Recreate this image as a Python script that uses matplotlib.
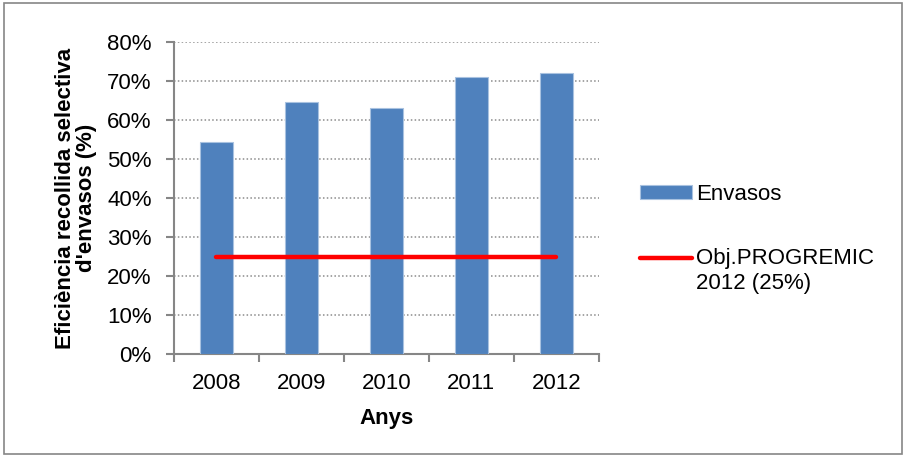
import numpy as np
import matplotlib.pyplot as plt
from matplotlib.legend_handler import HandlerLine2D
from matplotlib.lines import Line2D
from matplotlib.ticker import FixedLocator, FuncFormatter

plt.rcParams['font.family'] = ['Liberation Sans', 'DejaVu Sans']

# recollida selectiva d'envasos per any
anys = ['2008', '2009', '2010', '2011', '2012']
eficiencia = [54.3, 64.5, 63.1, 71.0, 72.0]
objectiu = [25, 25, 25, 25, 25]


class LiniaAdalt(HandlerLine2D):
    # put the legend line beside the first line of a two-line label
    def create_artists(self, legend, orig_handle, xdescent, ydescent,
                       width, height, fontsize, trans):
        artists = super().create_artists(legend, orig_handle, xdescent, ydescent,
                                         width, height, fontsize, trans)
        for a in artists:
            if isinstance(a, Line2D):
                a.set_ydata(np.asarray(a.get_ydata()) + 0.6 * fontsize)
        return artists


fig = plt.figure(figsize=(9.06, 4.57), dpi=100)
ax = fig.add_axes([0.192, 0.2254, 0.469, 0.6826])

pos = list(range(len(anys)))
barres = ax.bar(pos, eficiencia, width=0.39, color='#4F81BD', edgecolor='#A9C2E0',
                linewidth=0.8, label='Envasos', zorder=3)
linia, = ax.plot(pos, objectiu, color='#FF0000', linewidth=3.2, solid_capstyle='round',
                 label='Obj.PROGREMIC\n2012 (25%)', zorder=4)

ax.set_xlim(-0.5, 4.5)
ax.set_ylim(0, 80)
ax.set_yticks(range(0, 81, 10))
ax.yaxis.set_major_formatter(FuncFormatter(lambda v, p: f'{v:.0f}%'))
ax.set_xticks(pos)
ax.set_xticklabels(anys)
ax.xaxis.set_minor_locator(FixedLocator([-0.5, 0.5, 1.5, 2.5, 3.5, 4.5]))

ax.tick_params(axis='x', which='major', length=0, pad=14, labelsize=16)
ax.tick_params(axis='x', which='minor', length=6, color='#868686', width=1.5)
ax.tick_params(axis='y', length=6, color='#868686', width=1.5, labelsize=16, pad=10)

ax.grid(axis='y', linestyle=(0, (1, 1.5)), color='#8C8C8C', linewidth=1.1, zorder=0)
for side in ['top', 'right']:
    ax.spines[side].set_visible(False)
for side in ['left', 'bottom']:
    ax.spines[side].set_color('#868686')
    ax.spines[side].set_linewidth(1.5)

ax.set_xlabel('Anys', fontsize=16, fontweight='bold', labelpad=10)
ax.set_ylabel("Eficiència recollida selectiva\nd'envasos (%)", fontsize=16,
              fontweight='bold', labelpad=7, linespacing=1.05)

fig.legend(handles=[barres, linia], loc='upper left', bbox_to_anchor=(0.684, 0.641),
           frameon=False, fontsize=16, handlelength=2.35, handleheight=0.6,
           handletextpad=0.2, labelspacing=1.95,
           handler_map={Line2D: LiniaAdalt()})

fig.patches.append(plt.Rectangle((0.004, 0.006), 0.992, 0.988, transform=fig.transFigure,
                                 fill=False, edgecolor='#868686', linewidth=1.2))

fig.savefig('out.png', dpi=100)
